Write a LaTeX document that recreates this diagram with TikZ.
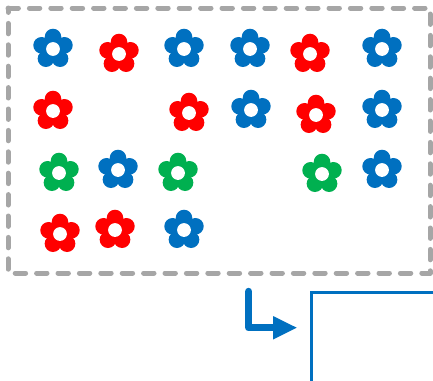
\documentclass[tikz,border=0pt]{standalone}
\definecolor{fblue}{HTML}{0070C0}
\definecolor{fred}{HTML}{FF0000}
\definecolor{fgreen}{HTML}{00B050}
\definecolor{fgray}{HTML}{A6A6A6}
\tikzset{
  flower/.pic={
    \foreach \a in {270,342,54,126,198}
      \fill[pic actions] (\a:12) circle (8.3);
    \fill[pic actions] (0,0) circle (10);
    \fill[white] (0,0) circle (6.9);
  },
  frameline/.style={draw=fgray,line width=5pt,line cap=round,line join=round,dash pattern=on 10.4pt off 11pt},
  arrowline/.style={draw=fblue,line width=7.4pt,line cap=round,line join=round},
  arrowhead/.style={fill=fblue},
  boxline/.style={draw=fblue,line width=2.6pt}
}
\begin{document}
\begin{tikzpicture}[x=1pt,y=-1pt]
\useasboundingbox (0,0) rectangle (433,380);
\draw[frameline] (8,8) -- (430,8) -- (430,273) -- (8,273) -- cycle;
\begin{scope}[yshift=-1pt]
\foreach \p in {(53,48),(184,48),(250,48),(382,48),(251,109),(382,109),(118,169),(382,169),(184,229)}
  \pic[fblue,fill=fblue] at \p {flower};
\foreach \p in {(119,53),(310,53),(53,110),(189,112),(316,114),(115,229),(60,233)}
  \pic[fred,fill=fred] at \p {flower};
\foreach \p in {(59,172),(178,172),(322,173)}
  \pic[fgreen,fill=fgreen] at \p {flower};
\end{scope}
\coordinate (s) at (248.7,291.5);
\coordinate (b) at (248.7,327.7);
\coordinate (h) at (274,327.7);
\draw[arrowline] (s) -- (b) -- (h);
\fill[arrowhead] (273,316) -- (296.7,327.7) -- (273,339.5) -- cycle;
\draw[boxline] (311.2,381) -- (311.2,292.6) -- (434,292.6);
\end{tikzpicture}
\end{document}
